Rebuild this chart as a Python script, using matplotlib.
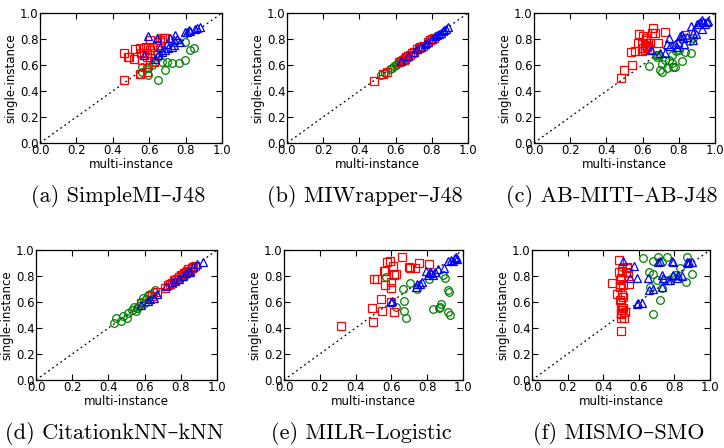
import matplotlib.pyplot as plt

# multi-instance vs single-instance accuracy, one panel per method pair
titles = ['(a) SimpleMI–J48', '(b) MIWrapper–J48', '(c) AB-MITI–AB-J48',
          '(d) CitationkNN–kNN', '(e) MILR–Logistic', '(f) MISMO–SMO']

# (a) SimpleMI-J48
a_red_x = [0.464, 0.464, 0.483, 0.49, 0.514, 0.523, 0.547, 0.554, 0.569, 0.582, 0.59, 0.606, 0.615,
           0.587, 0.56, 0.547, 0.587, 0.624, 0.63, 0.642, 0.66, 0.67, 0.679, 0.688, 0.657, 0.606, 0.572]
a_red_y = [0.485, 0.696, 0.663, 0.663, 0.65, 0.722, 0.727, 0.696, 0.732, 0.74, 0.694, 0.796, 0.74,
           0.663, 0.638, 0.53, 0.548, 0.625, 0.689, 0.753, 0.79, 0.804, 0.804, 0.811, 0.778, 0.714, 0.676]
a_blue_x = [0.593, 0.642, 0.697, 0.716, 0.734, 0.743, 0.752, 0.725, 0.706, 0.688, 0.67, 0.651, 0.633,
            0.569, 0.798, 0.817, 0.826, 0.853, 0.881, 0.862, 0.807, 0.734, 0.771, 0.66]
a_blue_y = [0.82, 0.804, 0.765, 0.804, 0.79, 0.83, 0.80, 0.74, 0.727, 0.714, 0.70, 0.676, 0.65,
            0.676, 0.855, 0.867, 0.862, 0.88, 0.893, 0.888, 0.855, 0.752, 0.778, 0.74]
a_green_x = [0.547, 0.56, 0.596, 0.596, 0.615, 0.633, 0.642, 0.646, 0.651, 0.67, 0.688, 0.697, 0.725,
             0.761, 0.794, 0.798, 0.826, 0.844, 0.587, 0.56]
a_green_y = [0.53, 0.587, 0.523, 0.574, 0.60, 0.625, 0.689, 0.663, 0.485, 0.625, 0.561, 0.625, 0.612,
             0.612, 0.638, 0.778, 0.719, 0.727, 0.587, 0.548]

# (b) MIWrapper-J48
b_red_x = [0.48, 0.53, 0.55, 0.62, 0.63, 0.64, 0.65, 0.66, 0.67, 0.68, 0.69, 0.70, 0.72, 0.73,
           0.74, 0.75, 0.78, 0.79, 0.80, 0.81, 0.66, 0.645, 0.735, 0.79]
b_red_y = [0.48, 0.53, 0.545, 0.62, 0.63, 0.64, 0.65, 0.66, 0.67, 0.68, 0.69, 0.70, 0.72, 0.73,
           0.74, 0.75, 0.78, 0.79, 0.80, 0.81, 0.665, 0.64, 0.74, 0.795]
b_blue_x = [0.63, 0.67, 0.70, 0.72, 0.74, 0.76, 0.77, 0.78, 0.80, 0.82, 0.83, 0.84, 0.85, 0.86,
            0.87, 0.88, 0.89]
b_blue_y = [0.63, 0.67, 0.70, 0.72, 0.74, 0.76, 0.77, 0.78, 0.80, 0.82, 0.83, 0.84, 0.85, 0.86,
            0.87, 0.88, 0.89]
b_green_x = [0.52, 0.54, 0.57, 0.58, 0.60, 0.61, 0.62, 0.63, 0.64, 0.66, 0.59, 0.65]
b_green_y = [0.52, 0.535, 0.57, 0.58, 0.60, 0.61, 0.62, 0.63, 0.645, 0.66, 0.59, 0.65]

# (c) AB-MITI-AB-J48
c_red_x = [0.479, 0.497, 0.54, 0.534, 0.558, 0.576, 0.579, 0.604, 0.599, 0.595, 0.613, 0.619, 0.622,
           0.632, 0.641, 0.613, 0.65, 0.659, 0.668, 0.687, 0.724, 0.834, 0.626, 0.604, 0.635, 0.619]
c_red_y = [0.497, 0.561, 0.60, 0.70, 0.707, 0.77, 0.837, 0.821, 0.77, 0.709, 0.714, 0.79, 0.75,
           0.77, 0.77, 0.755, 0.85, 0.888, 0.85, 0.77, 0.855, 0.829, 0.735, 0.727, 0.72, 0.81]
c_blue_x = [0.645, 0.696, 0.724, 0.733, 0.746, 0.751, 0.779, 0.797, 0.807, 0.816, 0.825, 0.828, 0.788,
            0.866, 0.88, 0.893, 0.899, 0.908, 0.917, 0.926, 0.935, 0.945, 0.954, 0.963, 0.926, 0.88, 0.843]
c_blue_y = [0.714, 0.694, 0.694, 0.765, 0.811, 0.745, 0.765, 0.778, 0.821, 0.829, 0.804, 0.765, 0.74,
            0.898, 0.847, 0.842, 0.913, 0.918, 0.93, 0.949, 0.93, 0.913, 0.934, 0.939, 0.878, 0.79, 0.816]
c_green_x = [0.637, 0.672, 0.681, 0.696, 0.705, 0.705, 0.724, 0.733, 0.748, 0.76, 0.766, 0.779, 0.785,
             0.803, 0.816, 0.834, 0.866, 0.862, 0.88, 0.76, 0.687]
c_green_y = [0.592, 0.676, 0.663, 0.561, 0.548, 0.607, 0.638, 0.574, 0.638, 0.617, 0.582, 0.582, 0.709,
             0.714, 0.633, 0.702, 0.694, 0.786, 0.804, 0.676, 0.676]

# (d) CitationkNN-kNN
d_red_x = [0.58, 0.64, 0.67, 0.71, 0.73, 0.74, 0.75, 0.76, 0.77, 0.78, 0.79, 0.80, 0.81, 0.82,
           0.83, 0.835, 0.84, 0.85, 0.86, 0.87, 0.88, 0.80, 0.82, 0.78]
d_red_y = [0.595, 0.645, 0.68, 0.71, 0.73, 0.74, 0.745, 0.77, 0.77, 0.78, 0.79, 0.80, 0.81, 0.82,
           0.83, 0.84, 0.85, 0.84, 0.86, 0.87, 0.88, 0.805, 0.815, 0.775]
d_blue_x = [0.58, 0.62, 0.63, 0.65, 0.67, 0.72, 0.75, 0.77, 0.79, 0.81, 0.83, 0.85, 0.87, 0.89,
            0.92, 0.84]
d_blue_y = [0.58, 0.61, 0.62, 0.63, 0.66, 0.72, 0.75, 0.76, 0.78, 0.80, 0.82, 0.83, 0.87, 0.89,
            0.91, 0.835]
d_green_x = [0.43, 0.44, 0.47, 0.48, 0.50, 0.51, 0.53, 0.54, 0.55, 0.56, 0.57, 0.58, 0.59, 0.60,
             0.61, 0.62, 0.63, 0.65, 0.66, 0.56]
d_green_y = [0.435, 0.48, 0.455, 0.49, 0.48, 0.515, 0.54, 0.56, 0.53, 0.55, 0.57, 0.60, 0.63, 0.595,
             0.62, 0.65, 0.66, 0.68, 0.69, 0.55]

# (e) MILR-Logistic
e_red_x = [0.316, 0.494, 0.498, 0.502, 0.517, 0.541, 0.548, 0.558, 0.567, 0.567, 0.576, 0.591, 0.60,
           0.60, 0.60, 0.61, 0.615, 0.628, 0.613, 0.662, 0.699, 0.703, 0.732, 0.755, 0.81]
e_red_y = [0.415, 0.556, 0.449, 0.777, 0.777, 0.623, 0.531, 0.841, 0.841, 0.731, 0.91, 0.915, 0.756,
           0.71, 0.603, 0.877, 0.808, 0.813, 0.521, 0.944, 0.872, 0.864, 0.859, 0.897, 0.892]
e_blue_x = [0.595, 0.606, 0.736, 0.745, 0.77, 0.796, 0.814, 0.823, 0.842, 0.86, 0.894, 0.916, 0.935,
            0.953, 0.963, 0.967, 0.944, 0.805, 0.833, 0.758]
e_blue_y = [0.597, 0.608, 0.718, 0.736, 0.751, 0.838, 0.833, 0.821, 0.833, 0.854, 0.859, 0.915, 0.923,
            0.936, 0.949, 0.928, 0.915, 0.808, 0.808, 0.736]
e_green_x = [0.572, 0.628, 0.665, 0.671, 0.671, 0.68, 0.706, 0.743, 0.808, 0.833, 0.864, 0.87, 0.879,
             0.888, 0.898, 0.916, 0.926, 0.916, 0.92]
e_green_y = [0.795, 0.564, 0.697, 0.61, 0.531, 0.474, 0.744, 0.697, 0.777, 0.544, 0.551, 0.564, 0.582,
             0.808, 0.787, 0.521, 0.50, 0.692, 0.674]

# (f) MISMO-SMO
f_red_x = [0.449, 0.477, 0.486, 0.486, 0.495, 0.495, 0.499, 0.499, 0.501, 0.501, 0.501, 0.501, 0.505,
           0.508, 0.51, 0.514, 0.518, 0.523, 0.529, 0.533, 0.536, 0.542, 0.546, 0.495, 0.505, 0.499,
           0.51, 0.495]
f_red_y = [0.744, 0.659, 0.923, 0.833, 0.769, 0.736, 0.782, 0.603, 0.564, 0.513, 0.474, 0.377, 0.838,
           0.651, 0.731, 0.641, 0.479, 0.526, 0.833, 0.864, 0.872, 0.821, 0.736, 0.615, 0.538, 0.505,
           0.551, 0.718]
f_blue_x = [0.514, 0.574, 0.551, 0.589, 0.589, 0.598, 0.617, 0.654, 0.66, 0.682, 0.707, 0.72, 0.729,
            0.729, 0.738, 0.766, 0.776, 0.785, 0.794, 0.794, 0.813, 0.822, 0.841, 0.869, 0.884, 0.897,
            0.879]
f_blue_y = [0.915, 0.879, 0.782, 0.787, 0.585, 0.59, 0.595, 0.782, 0.692, 0.697, 0.91, 0.915, 0.718,
            0.808, 0.787, 0.769, 0.769, 0.915, 0.91, 0.808, 0.787, 0.808, 0.803, 0.91, 0.905, 0.905,
            0.897]
f_green_x = [0.505, 0.626, 0.66, 0.664, 0.682, 0.682, 0.679, 0.701, 0.71, 0.72, 0.729, 0.748, 0.757,
             0.791, 0.804, 0.832, 0.864, 0.869, 0.897, 0.729]
f_green_y = [0.872, 0.941, 0.833, 0.718, 0.813, 0.505, 0.915, 0.769, 0.949, 0.615, 0.71, 0.769, 0.949,
             0.795, 0.808, 0.859, 0.756, 0.949, 0.813, 0.905]

panels = [
    (a_red_x, a_red_y, a_blue_x, a_blue_y, a_green_x, a_green_y),
    (b_red_x, b_red_y, b_blue_x, b_blue_y, b_green_x, b_green_y),
    (c_red_x, c_red_y, c_blue_x, c_blue_y, c_green_x, c_green_y),
    (d_red_x, d_red_y, d_blue_x, d_blue_y, d_green_x, d_green_y),
    (e_red_x, e_red_y, e_blue_x, e_blue_y, e_green_x, e_green_y),
    (f_red_x, f_red_y, f_blue_x, f_blue_y, f_green_x, f_green_y),
]

W, H = 724, 448
# axes boxes in pixels: left, top, right, bottom
boxes = [(40, 13, 222, 143), (287, 13, 468, 143), (534, 13, 715, 143),
         (36, 250, 217, 380), (284, 250, 463, 380), (532, 250, 710, 380)]
caption_pos = [(118, 196), (365, 196), (612, 196), (114, 433), (361, 433), (619, 433)]

fig = plt.figure(figsize=(W / 100, H / 100), dpi=100)
ticks = [0.0, 0.2, 0.4, 0.6, 0.8, 1.0]

for box, pts, title, cap in zip(boxes, panels, titles, caption_pos):
    l, t, r, b = box
    ax = fig.add_axes([l / W, 1 - b / H, (r - l) / W, (b - t) / H])
    rx, ry, bx, by, gx, gy = pts
    ax.plot([0, 1], [0, 1], color='black', linestyle=(0, (1.5, 2.5)), linewidth=0.9)
    ax.plot(gx, gy, 'o', mfc='none', mec='green', ms=5.5, mew=0.9)
    ax.plot(rx, ry, 's', mfc='none', mec='red', ms=5.5, mew=0.9)
    ax.plot(bx, by, '^', mfc='none', mec='blue', ms=5.5, mew=0.9)
    ax.set_xlim(0, 1)
    ax.set_ylim(0, 1)
    ax.set_xticks(ticks)
    ax.set_yticks(ticks)
    ax.tick_params(direction='in', top=True, right=True, length=4, width=0.8,
                   labelsize=8.5, pad=1)
    for s in ax.spines.values():
        s.set_linewidth(0.9)
    ax.set_xlabel('multi-instance', fontsize=8.5, labelpad=0.5)
    ax.set_ylabel('single-instance', fontsize=8.5, labelpad=2)
    fig.text(cap[0] / W, 1 - cap[1] / H, title, ha='center', va='center',
             fontsize=16, family=['cmr10', 'DejaVu Serif'])

fig.savefig('out.png', dpi=100)
